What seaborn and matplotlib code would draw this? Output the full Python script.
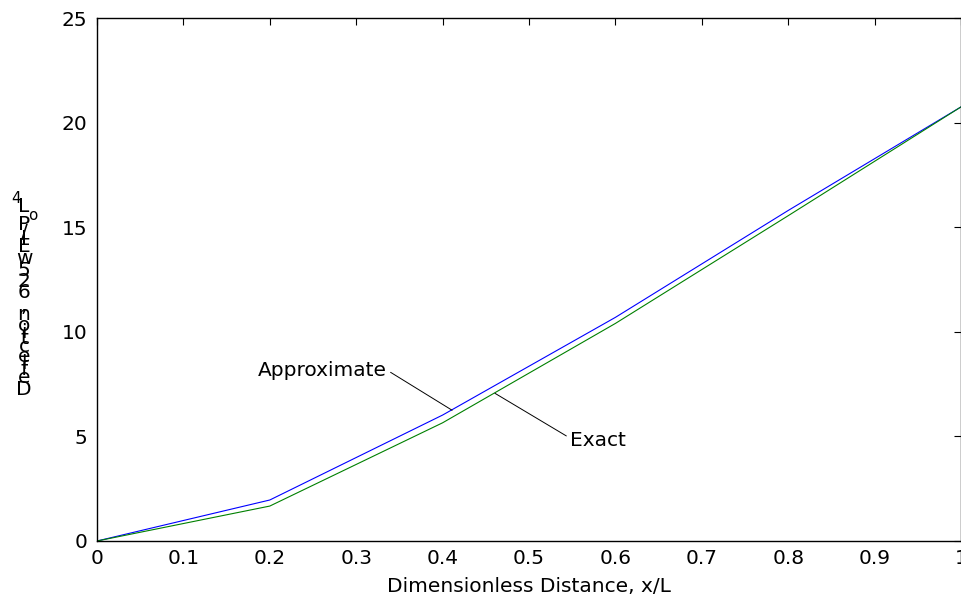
import numpy as np
import pandas as pd
import matplotlib
matplotlib.use("Agg")
import matplotlib.pyplot as plt
import seaborn as sns
from matplotlib.font_manager import FontProperties

# data
x_pos = [0.0, 0.2, 0.4, 0.6, 0.8, 1.0]
approx_vals = [0.0, 1.96, 6.02, 10.69, 15.8, 20.75]
exact_vals = [0.0, 1.67, 5.65, 10.4, 15.55, 20.75]
x_ticks = [0, 0.1, 0.2, 0.3, 0.4, 0.5, 0.6, 0.7, 0.8, 0.9, 1]
x_tick_labels = ['0', '0.1', '0.2', '0.3', '0.4', '0.5', '0.6', '0.7', '0.8', '0.9', '1']
y_ticks = [0, 5, 10, 15, 20, 25]

sns.set_theme(style="white")
plt.rcParams['font.family'] = ['DejaVu Sans']
FS = 14.5

df = pd.DataFrame({
    'x': x_pos * 2,
    'y': approx_vals + exact_vals,
    'kind': ['Approximate'] * len(x_pos) + ['Exact'] * len(x_pos),
})

fig = plt.figure(figsize=(9.61, 5.97), dpi=100)
ax = fig.add_axes([97 / 961, 56 / 597, 864 / 961, 523 / 597])

sns.lineplot(data=df, x='x', y='y', hue='kind', palette={'Approximate': '#0000ff', 'Exact': '#008000'},
             linewidth=0.8, legend=False, ax=ax, errorbar=None)

ax.set_xlim(0, 1)
ax.set_ylim(0, 25)
ax.set_xticks(x_ticks)
ax.set_xticklabels(x_tick_labels)
ax.set_yticks(y_ticks)
ax.tick_params(direction='in', length=5, width=0.8, top=True, right=True,
               labelsize=FS, colors='black')
ax.tick_params(axis='x', pad=6)
ax.tick_params(axis='y', pad=7)
for sp in ax.spines.values():
    sp.set_color('black')
    sp.set_linewidth(1.0)
    sp.set_visible(True)

ax.set_xlabel('Dimensionless Distance, x/L', fontsize=FS, color='black', labelpad=6)
ax.set_ylabel('')

# leader-line labels
ax.annotate('Approximate', xy=(0.411, 6.25), xytext=(0.336, 8.16),
            ha='right', va='center', fontsize=FS, color='black',
            arrowprops=dict(arrowstyle='-', color='black', lw=0.7,
                            shrinkA=0, shrinkB=0, relpos=(1, 0.5)))
ax.annotate('Exact', xy=(0.4606, 7.06), xytext=(0.547, 4.82),
            ha='left', va='center', fontsize=FS, color='black',
            arrowprops=dict(arrowstyle='-', color='black', lw=0.7,
                            shrinkA=0, shrinkB=0, relpos=(0, 0.62)))

# y label drawn as stacked, unrotated glyphs (like the reference)
ylab = [('D', 0), ('e', 0), ('f', 0), ('l', 0), ('e', 0), ('c', 0), ('t', 0), ('i', 0),
        ('o', 0), ('n', 0), (',', 0), (' ', 0), ('6', 0), ('2', 0), ('5', 0), ('w', 0),
        ('E', 0), ('I', 0), ('/', 0), ('P', 0), ('o', -1), ('L', 0), ('4', 1)]
renderer = fig.canvas.get_renderer()
fp = FontProperties(family=['DejaVu Sans'], size=FS)
fp_small = FontProperties(family=['DejaVu Sans'], size=FS * 0.75)
widths = []
for ch, sc in ylab:
    p = fp if sc == 0 else fp_small
    w, h, d = renderer.get_text_width_height_descent(ch, p, ismath=False)
    widths.append(w)
top_px, bot_px = 187, 403
scale = (bot_px - top_px - 14) / sum(widths)
cur = bot_px - 7
for (ch, sc), w in zip(ylab, widths):
    step = w * scale
    yc = cur - step / 2
    xc = 24 + (9 if sc == -1 else (-8 if sc == 1 else 0))
    p = fp if sc == 0 else fp_small
    fig.text(xc / 961, 1 - yc / 597, ch, fontproperties=p, ha='center', va='center', color='black')
    cur -= step

fig.savefig('out.png', dpi=100, facecolor='white')
